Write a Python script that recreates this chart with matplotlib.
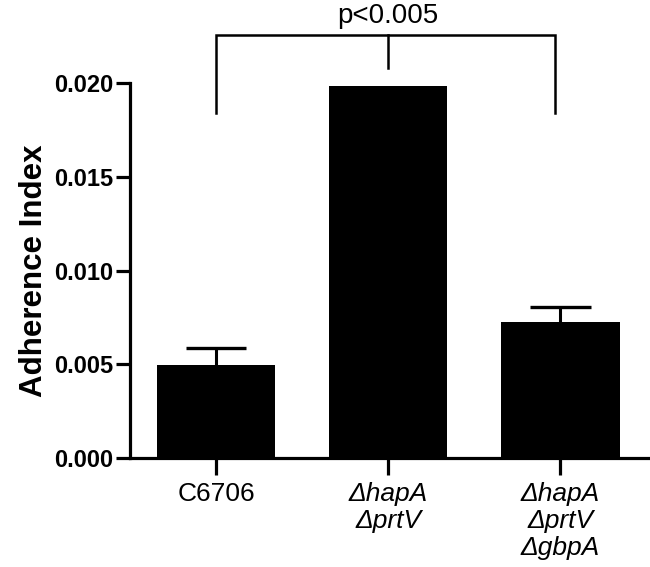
import matplotlib
matplotlib.use('Agg')
import matplotlib.pyplot as plt

plt.rcParams['font.family'] = ['Liberation Sans', 'DejaVu Sans']

# data
strains = ['C6706', 'ΔhapA\nΔprtV', 'ΔhapA\nΔprtV\nΔgbpA']
italic = [False, True, True]
adherence = [0.00496, 0.01985, 0.00725]
err_up = [0.00091, 0.0, 0.00080]
yticks = [0.000, 0.005, 0.010, 0.015, 0.020]

# significance bracket (left end, middle, right end)
bracket_x = [0, 1, 1.97]
bracket_top = 0.02256
bracket_leg = 0.0184
bracket_mid = 0.0208
p_text = 'p<0.005'

fig = plt.figure(figsize=(6.5, 5.67), dpi=100)
ax = fig.add_axes([0.2, 0.192, 0.8, 0.808])

x = list(range(len(strains)))
ax.bar(x, adherence, width=0.686, color='black', zorder=2)
# upper error bars only (stem + cap), skipped where no error shows
for i, a, e in zip(x, adherence, err_up):
    if e > 0:
        ax.vlines(i, a, a + e, color='black', lw=2.2, zorder=1)
        ax.hlines(a + e, i - 0.175, i + 0.175, color='black', lw=2.4, zorder=1)

ax.set_xlim(-0.5, 2.52)
ax.set_ylim(0, 0.02443)

for s in ['top', 'right']:
    ax.spines[s].set_visible(False)
for s in ['left', 'bottom']:
    ax.spines[s].set_linewidth(2.3)
ax.spines['left'].set_bounds(0, 0.020)

ax.set_yticks(yticks)
ax.set_yticklabels(['%.3f' % v for v in yticks], fontsize=17, fontweight='bold')
ax.set_xticks(x)
ax.set_xticklabels(strains, fontsize=19, linespacing=1.17, va='top')
for lab, it in zip(ax.get_xticklabels(), italic):
    if it:
        lab.set_style('italic')
ax.tick_params(axis='y', length=10, width=2.3, pad=2)
ax.tick_params(axis='x', length=12, width=2.3, pad=5)

ax.set_ylabel('Adherence Index', fontsize=22.5, fontweight='bold')
ax.yaxis.set_label_coords(-0.155, 0.41)

# bracket
ax.plot([bracket_x[0], bracket_x[0], bracket_x[2], bracket_x[2]],
        [bracket_leg, bracket_top, bracket_top, bracket_leg],
        color='black', lw=1.8, clip_on=False, solid_joinstyle='miter')
ax.plot([bracket_x[1], bracket_x[1]], [bracket_top, bracket_mid],
        color='black', lw=1.8, clip_on=False)
ax.text(bracket_x[1], bracket_top + 0.0003, p_text, ha='center', va='bottom',
        fontsize=20, clip_on=False)

fig.savefig('out.png', dpi=100)
